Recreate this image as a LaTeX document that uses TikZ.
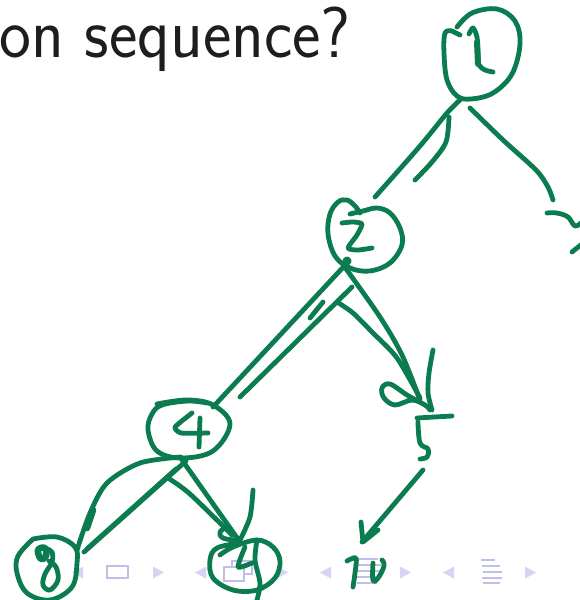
\documentclass[tikz,border=0pt]{standalone}
\usepackage{graphicx}
\definecolor{ink}{RGB}{10,124,80}
\definecolor{navline}{RGB}{190,192,234}
\definecolor{navtri}{RGB}{212,213,243}
\definecolor{slidetext}{RGB}{30,30,30}
\tikzset{
  pen/.style={draw=ink, line width=4.8pt, line cap=round, line join=round},
  thickpen/.style={pen, line width=6.5pt},
  navicon/.style={draw=navline, line width=2.2pt},
  navtriangle/.style={fill=navtri, draw=none},
}
\begin{document}
\begin{tikzpicture}[x=1pt, y=-1pt]
\useasboundingbox[fill=white] (0,0) rectangle (580,600);

% slide title fragment
\node[anchor=base west, inner sep=0pt, text=slidetext] (title) at (-1,57)
  {\scalebox{0.94}[1]{\fontsize{72}{86}\selectfont\sffamily on sequence?}};

% beamer navigation bar
\foreach \x in {72,195,320,443}
  \fill[navtriangle] (\x,572.5) -- (\x+11,566.5) -- (\x+11,578.5) -- cycle;
\foreach \x in {153,277,400,525}
  \fill[navtriangle] (\x+11,572.5) -- (\x,566.5) -- (\x,578.5) -- cycle;
\draw[navicon] (107,566) rectangle (128,578);
\draw[navicon] (232,561) rectangle (252,574);
\draw[navicon, fill=white] (224,567) rectangle (244,581);
\foreach \y/\a/\b in {559/356/378, 565/354/381, 571/356/380, 577/354/381, 583/357/377}
  \draw[navicon] (\a,\y) -- (\b,\y);
\foreach \y/\a/\b in {560/481/495, 566/482/500, 572/483/502, 578/482/502, 583/483/500}
  \draw[navicon] (\a,\y) -- (\b,\y);

% node 1
\draw[pen] (460,35) -- (452,31) plot[smooth, tension=0.6] coordinates
  {(452,31) (445,33) (444,53) (447,80) (457,96) (471,99) (493,93) (512,74) (520,44) (515,21) (497,9) (472,13) (457,27)};
\draw[pen] plot[smooth, tension=0.5] coordinates
  {(469,34) (473,28) (477,37) (478,53) (479,65) (485,70) (493,72)};
\draw[pen, line width=6pt] (477,42) -- (478,64);

% edges from node 1
\draw[pen] plot[smooth] coordinates {(460,100) (447,113) (420,146) (375,197)};
\draw[pen] plot[smooth] coordinates {(449,117) (446,142) (432,162) (415,180)};
\draw[pen] plot[smooth] coordinates {(470,108) (503,140) (536,170) (548,187) (553,200)};
\draw[pen] plot[smooth, tension=0.6] coordinates {(547,213) (557,213) (568,217) (575,226) (582,222)};
\draw[pen] (572,252) -- (582,244);

% node 2
\draw[pen] plot[smooth, tension=0.6] coordinates
  {(360,213) (355,206) (347,200) (338,202) (330,214) (328,234) (335,256) (350,268) (370,271) (390,263) (402,245) (400,228) (390,213) (377,208) (363,211) (350,214)};
\draw[pen] plot[smooth, tension=0.4] coordinates
  {(342,223) (353,222) (362,224) (357,235) (348,248) (358,250) (372,248)};
\fill[ink] (347,261) circle (4.5pt);

% edges from node 2
\draw[pen] (348,262) -- (213,407);
\draw[pen] (352,287) -- (240,397);
\draw[pen] (323,302) -- (310,318);
\draw[pen] plot[smooth] coordinates {(344,266) (380,317) (402,355) (420,400)};
\draw[pen] plot[smooth] coordinates {(337,302) (353,313) (373,333) (397,358) (420,398)};

% node 5 with its marks
\draw[pen] plot[smooth, tension=0.6] coordinates
  {(420,402) (407,395) (390,384) (382,388) (384,398) (395,405) (412,400) (425,405) (430,410)};
\draw[pen] plot[smooth] coordinates {(433,350) (429,373) (428,393) (432,410)};
\draw[pen] (417,418) -- (452,416);
\draw[pen] plot[smooth, tension=0.6] coordinates {(418,422) (420,443) (428,449) (427,457) (420,459)};

% arrow to 10
\coordinate (a5) at (423,470);
\coordinate (a10) at (362,542);
\draw[pen] (a5) -- (a10);
\draw[pen] (361,522) -- (363,542) -- (378,530);
\draw[pen] plot[smooth, tension=0.5] coordinates {(347,561) (356,558) (355,573) (353,587)};
\draw[pen] plot[smooth, tension=0.7] coordinates {(373,563) (373,580) (378,578) (384,566) (382,560)};

% node 4
\draw[pen] plot[smooth, tension=0.6] coordinates
  {(157,404) (187,400) (213,405) (230,424) (213,451) (181,458) (157,451) (148,430) (152,414) (162,405) (188,401) (207,403)};
\draw[pen] plot[smooth, tension=0.3] coordinates {(192,413) (175,427) (181,433) (208,433)};
\draw[pen] (200,418) -- (199,447);

% edges from node 4 to node 8
\draw[pen] plot[smooth] coordinates {(181,457) (140,463) (107,483) (90,513) (77,550)};
\draw[thickpen] (93,510) -- (87,528);
\draw[pen] (186,461) -- (84,552);
\draw[pen] (176,469) -- (88,548);

% edges from node 4 to node 9
\draw[pen] (182,460) -- (240,542);
\draw[pen] plot[smooth] coordinates {(168,478) (190,494) (232,535)};
\draw[pen] plot[smooth, tension=0.7] coordinates {(227,527) (220,532) (223,538) (235,540)};
\draw[pen] plot[smooth] coordinates {(253,490) (250,517) (240,540)};

% node 8
\draw[pen] plot[smooth, tension=0.6] coordinates
  {(33,539) (57,537) (75,547) (77,563) (72,587) (50,600) (27,593) (17,573) (18,556) (33,539)};
\draw[thickpen] plot[smooth cycle, tension=0.7] coordinates {(38,550) (45,548) (46,556) (41,559)};
\draw[pen] plot[smooth, tension=0.6] coordinates
  {(47,549) (52,552) (52,562) (45,574) (43,585) (50,590) (58,580) (56,567) (49,561)};

% node 9
\draw[pen] plot[smooth, tension=0.6] coordinates
  {(220,555) (233,547) (257,540) (273,547) (280,561) (275,578) (257,590) (233,590) (213,578) (210,560) (217,548) (240,543)};
\draw[pen] plot[smooth, tension=0.4] coordinates {(245,547) (238,567) (252,563)};
\draw[pen] plot[smooth] coordinates {(257,540) (255,560) (260,583) (257,600)};
\end{tikzpicture}
\end{document}
